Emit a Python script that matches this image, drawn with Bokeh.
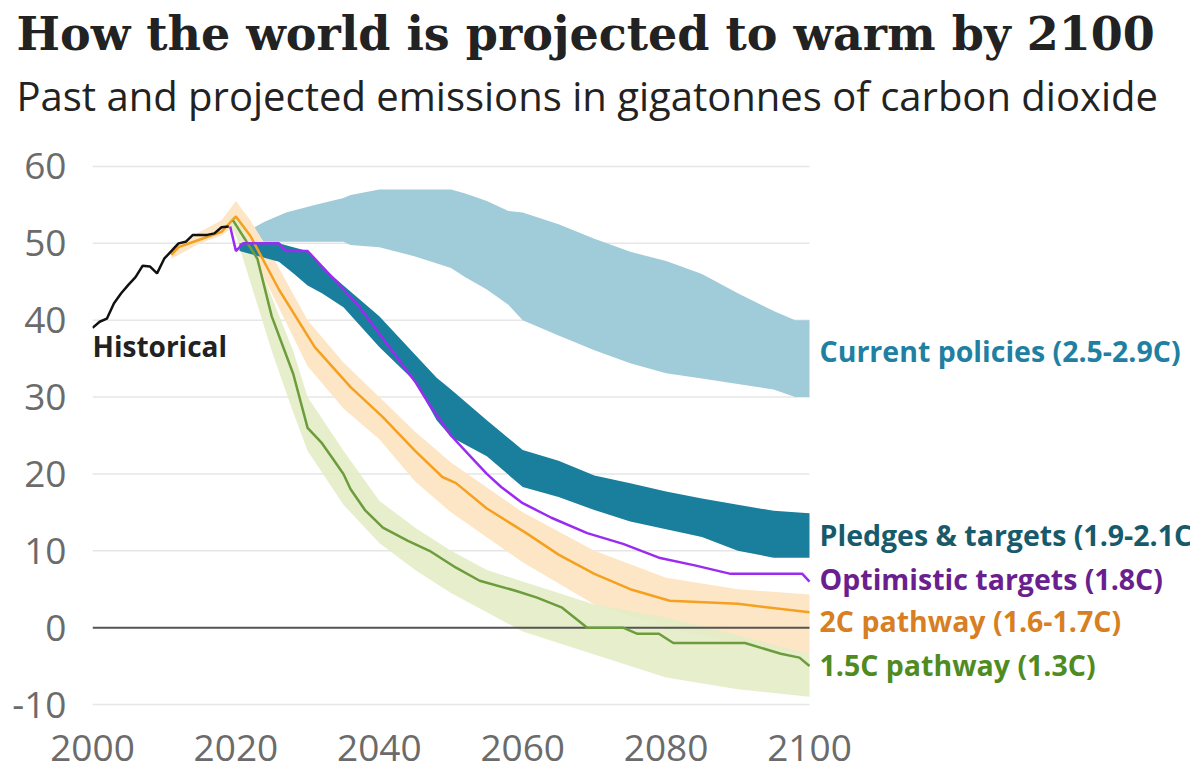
from bokeh.plotting import figure
from bokeh.models import Title, FixedTicker
from bokeh.core.properties import value
from bokeh.embed import file_html
from bokeh.resources import INLINE

# ---- data ----
hist_years = [2000, 2001, 2002, 2003, 2004, 2005, 2006, 2007, 2008, 2009,
              2010, 2011, 2012, 2013, 2014, 2015, 2016, 2017, 2018, 2019]
hist_vals = [39.0, 39.8, 40.2, 42.2, 43.5, 44.6, 45.6, 47.1, 47.0, 46.1,
             48.0, 49.0, 50.0, 50.2, 51.1, 51.1, 51.1, 51.3, 52.1, 52.2]

cp_years = [2021, 2022, 2024, 2027, 2031, 2035, 2036, 2040, 2045, 2050, 2052, 2055,
            2058, 2060, 2065, 2070, 2075, 2080, 2085, 2090, 2095, 2098, 2100]
cp_low = [50.6, 50.2, 50.2, 50.2, 50.2, 50.2, 49.8, 49.5, 48.3, 46.8, 45.6, 44.0,
          42.0, 40.0, 38.0, 36.1, 34.4, 33.1, 32.4, 31.7, 31.0, 30.0, 30.0]
cp_high = [51.4, 51.8, 52.8, 54.0, 55.0, 55.9, 56.3, 57.0, 57.0, 57.0, 56.5, 55.5,
           54.2, 54.0, 52.5, 50.6, 48.9, 47.7, 46.0, 43.5, 41.2, 40.0, 40.0]

pl_years = [2020.5, 2026, 2028, 2030, 2032, 2035, 2040, 2045, 2048, 2050, 2055,
            2060, 2065, 2070, 2075, 2080, 2085, 2090, 2095, 2100]
pl_low = [49.0, 47.6, 46.1, 44.5, 43.5, 41.7, 36.5, 32.0, 27.0, 24.8, 22.3,
          18.3, 17.0, 15.3, 13.8, 12.8, 11.8, 10.0, 9.1, 9.1]
pl_high = [50.0, 50.0, 49.5, 49.0, 47.0, 44.5, 40.5, 35.5, 32.5, 31.0, 27.0,
           23.1, 21.7, 19.8, 18.8, 17.7, 16.8, 16.0, 15.2, 14.9]

opt_years = [2019.2, 2020, 2021, 2026, 2027, 2030, 2035, 2037, 2041, 2045, 2047, 2050,
             2053, 2055, 2057, 2060, 2064, 2069, 2074, 2079, 2084, 2089, 2099, 2100]
opt_vals = [52.2, 49.0, 50.0, 50.0, 49.0, 49.0, 44.0, 42.0, 37.0, 32.0, 29.0, 25.0,
            22.0, 20.0, 18.3, 16.2, 14.3, 12.3, 10.9, 9.1, 8.1, 7.0, 7.0, 6.0]

c2_band_years = [2011, 2015, 2018, 2020, 2022, 2025, 2030, 2035, 2040, 2045, 2050,
                 2060, 2070, 2080, 2090, 2100]
c2_low = [48.0, 50.0, 51.0, 52.5, 49.0, 43.5, 34.0, 28.5, 24.5, 19.0, 15.0,
          8.5, 3.0, 0.0, -2.0, -3.5]
c2_high = [49.5, 51.5, 53.0, 55.5, 53.0, 48.5, 40.0, 34.5, 30.0, 25.5, 21.5,
           15.0, 10.0, 6.5, 5.0, 4.3]
c2_years = [2011, 2012, 2015, 2018, 2020, 2022, 2026, 2031, 2036, 2040.5, 2045, 2048.8,
            2050.7, 2055, 2060.5, 2065, 2070, 2075, 2080.5, 2090, 2100]
c2_vals = [48.5, 49.5, 50.5, 51.5, 53.5, 51.0, 44.0, 36.5, 31.3, 27.4, 23.0, 19.6,
           18.8, 15.5, 12.3, 9.5, 7.0, 5.0, 3.5, 3.1, 2.0]

c15_band_years = [2019, 2020, 2022, 2025, 2028, 2030, 2035, 2040, 2045, 2050, 2055,
                  2060, 2065, 2070, 2080, 2090, 2100]
c15_low = [52.5, 51.0, 45.0, 36.0, 28.0, 23.0, 16.0, 11.0, 7.5, 4.5, 2.0,
           -0.5, -2.0, -3.5, -6.5, -8.0, -9.0]
c15_high = [53.5, 53.5, 50.0, 43.0, 36.0, 30.0, 23.0, 16.5, 13.0, 10.0, 7.5,
            6.0, 4.5, 3.0, 1.3, -1.0, -3.5]
c15_years = [2019.6, 2023, 2025, 2028, 2030, 2032, 2033.5, 2035, 2036, 2038, 2040.5,
             2044, 2047, 2050.7, 2054, 2059, 2062, 2065.5, 2069, 2074, 2076, 2079,
             2081, 2091, 2096, 2098.6, 2100]
c15_vals = [53.0, 48.0, 40.5, 33.0, 26.0, 24.0, 22.0, 20.0, 18.0, 15.3, 13.0,
            11.3, 10.0, 7.8, 6.1, 4.8, 3.9, 2.6, 0.0, 0.0, -0.8, -0.8,
            -2.0, -2.0, -3.4, -3.9, -5.0]

y_ticks = [-10, 0, 10, 20, 30, 40, 50, 60]
y_tick_labels = ["-10", "0", "10", "20", "30", "40", "50", "60"]
x_ticks = [2000, 2020, 2040, 2060, 2080, 2100]

title_text = "How the world is projected to warm by 2100"
subtitle_text = "Past and projected emissions in gigatonnes of carbon dioxide"

labels = ["Current policies (2.5-2.9C)", "Pledges & targets (1.9-2.1C)",
          "Optimistic targets (1.8C)", "2C pathway (1.6-1.7C)", "1.5C pathway (1.3C)"]
label_y = [36.0, 12.0, 6.3, 0.9, -4.8]
label_colors = ["#1f80a2", "#175a6b", "#6a1f8f", "#d77f22", "#4f8b1f"]

# ---- layout ----
W, H = 1190, 770
LEFT, TOP, BOTTOM_PAD = 92, 158, 58
px_per_year = 7.17
x_end = 2000 + (W - LEFT) / px_per_year

p = figure(width=W, height=H, x_range=(2000, x_end), y_range=(-11.04, 61.04),
           output_backend="svg", toolbar_location=None,
           min_border_left=LEFT, min_border_right=0, min_border_top=TOP,
           min_border_bottom=BOTTOM_PAD)
p.outline_line_color = None
p.xgrid.visible = False
p.ygrid.visible = False
p.background_fill_color = "white"
p.border_fill_color = "white"

sub = Title(text=subtitle_text, text_font="Open Sans", text_font_size="40px",
            text_font_style="normal", text_color="#222222", align="left",
            offset=-76, standoff=72)
p.add_layout(sub, "above")
ttl = Title(text=title_text, text_font="DejaVu Serif", text_font_size="46px",
            text_font_style="bold", text_color="#222222", align="left",
            offset=-76, standoff=-62)
p.add_layout(ttl, "above")

for ax in (p.xaxis[0], p.yaxis[0]):
    ax.axis_line_color = None
    ax.major_tick_line_color = None
    ax.minor_tick_line_color = None
    ax.major_label_text_font = "Open Sans"
    ax.major_label_text_font_size = "37px"
    ax.major_label_text_color = "#6b6b6b"
p.yaxis[0].ticker = FixedTicker(ticks=y_ticks)
p.yaxis[0].major_label_overrides = dict(zip(y_ticks, y_tick_labels))
p.xaxis[0].ticker = FixedTicker(ticks=x_ticks)
p.yaxis[0].major_label_standoff = 20
p.xaxis[0].major_label_standoff = 16

# grid lines only across the data span
grid_y = [t for t in y_ticks if t != 0]
p.segment(x0=[x_ticks[0]] * len(grid_y), x1=[x_ticks[-1]] * len(grid_y),
          y0=grid_y, y1=grid_y, line_color="#e6e6e6", line_width=1.5)

# bands
p.varea(x=cp_years, y1=cp_low, y2=cp_high, fill_color="#a0cbd9")
p.varea(x=c2_band_years, y1=c2_low, y2=c2_high, fill_color="#fde6c6")
p.varea(x=c15_band_years, y1=c15_low, y2=c15_high, fill_color="#e3ecc5", fill_alpha=0.9)
p.varea(x=pl_years, y1=pl_low, y2=pl_high, fill_color="#1a7f9c")

# zero line
p.segment(x0=[x_ticks[0]], x1=[x_ticks[-1]], y0=[0], y1=[0], line_color="#555555", line_width=2)

# lines
p.line(c2_years, c2_vals, line_color="#f5a01f", line_width=2.5)
p.line(c15_years, c15_vals, line_color="#6d9c3c", line_width=2.5)
p.line(opt_years, opt_vals, line_color="#9b2bf0", line_width=2.5)
p.line(hist_years, hist_vals, line_color="#111111", line_width=2.5)

# labels
p.text(x=[2000], y=[36.7], text=["Historical"], text_font=value("Open Sans"),
       text_font_style="bold", text_font_size="28px", text_color="#222222",
       text_baseline="middle", text_align="left")
p.text(x=[2101.4] * len(labels), y=label_y, text=labels, text_font=value("Open Sans"),
       text_font_style="bold", text_font_size="28.5px", text_color=label_colors,
       text_baseline="middle", text_align="left")

open("out.html", "w").write(file_html(p, INLINE))
